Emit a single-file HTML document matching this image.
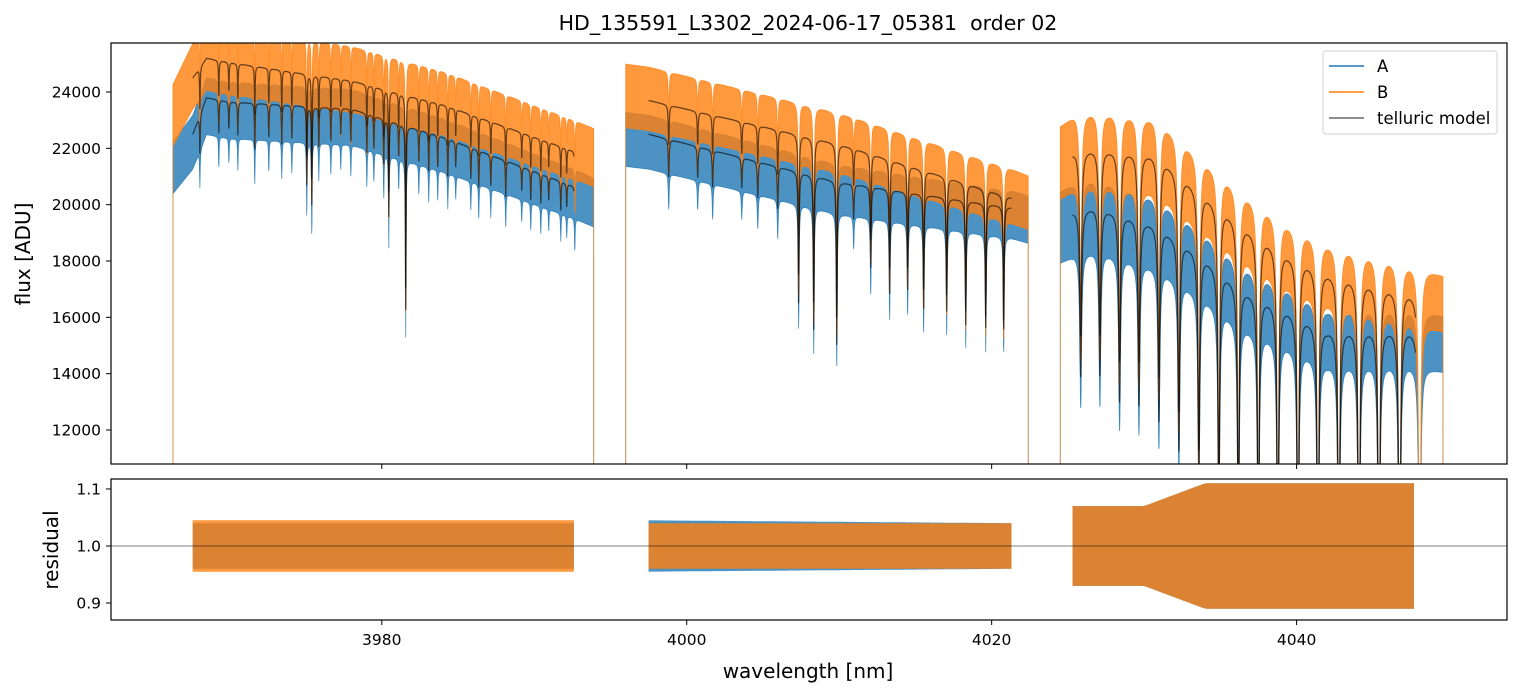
<!DOCTYPE html>
<html><head><meta charset="utf-8">
<style>
html,body{margin:0;padding:0;background:#fff;}
svg{display:block;font-family:"DejaVu Sans","Liberation Sans",sans-serif;}
</style></head>
<body>
<svg id="chart" width="1520" height="696" viewBox="0 0 1520 696" xmlns="http://www.w3.org/2000/svg">
<defs>
<clipPath id="clipTop"><rect x="111" y="43" width="1396" height="421"/></clipPath>
<clipPath id="clipBot"><rect x="111" y="479" width="1396" height="141"/></clipPath>
</defs>
<rect x="0" y="0" width="1520" height="696" fill="#fff"/>
<text x="808" y="30" text-anchor="middle" font-size="20.5" fill="#000">HD_135591_L3302_2024-06-17_05381&#160; order 02</text>
<g id="topPlot" clip-path="url(#clipTop)"></g>
<g id="botPlot" clip-path="url(#clipBot)"></g>
<rect x="111" y="43" width="1396" height="421" fill="none" stroke="#000" stroke-width="1.2"/>
<rect x="111" y="479" width="1396" height="141" fill="none" stroke="#000" stroke-width="1.2"/>
<g id="axes"></g>
<text transform="translate(30,254) rotate(-90)" text-anchor="middle" font-size="20">flux [ADU]</text>
<text transform="translate(58,550) rotate(-90)" text-anchor="middle" font-size="20">residual</text>
<text x="808" y="678" text-anchor="middle" font-size="20">wavelength [nm]</text>
<g>
<rect x="1323" y="51" width="174" height="83" rx="3" fill="#fff" fill-opacity="0.8" stroke="#d0d0d0" stroke-width="1"/>
<line x1="1329" y1="66" x2="1364" y2="66" stroke="#1f77b4" stroke-width="1.5"/>
<text x="1377" y="72" font-size="16.5">A</text>
<line x1="1329" y1="92" x2="1364" y2="92" stroke="#ff7f0e" stroke-width="1.5"/>
<text x="1377" y="98" font-size="16.5">B</text>
<line x1="1329" y1="118" x2="1364" y2="118" stroke="#000" stroke-opacity="0.6" stroke-width="1.5"/>
<text x="1377" y="124" font-size="16.5">telluric model</text>
</g>
</svg>
<script>
// ---- data ----
const xTicks = [3980, 4000, 4020, 4040];
const yTicksFlux = [12000, 14000, 16000, 18000, 20000, 22000, 24000];
const yTicksRes = [0.9, 1.0, 1.1];
const segDataStart = [3966.3, 3996.0, 4024.5];
const segDataEnd = [3993.9, 4022.4, 4049.6];
const segModelStart = [3967.6, 3997.5, 4025.3];
const segModelEnd = [3992.6, 4021.3, 4047.8];
const contWl = [3966.2, 3967.6, 3968.5, 3970, 3978, 3984, 3992.6, 3994, 3996, 3997.5, 4010, 4021.3, 4022.5, 4024.5, 4025.5, 4026.9, 4030.8, 4033.7, 4036.4, 4039.4, 4042, 4047.3, 4049.6];
const contA = [21500, 22500, 23800, 23650, 23400, 22400, 20650, 20300, 22600, 22500, 20800, 19900, 19700, 19500, 19800, 19950, 19300, 18250, 17050, 16300, 15600, 15600, 15300];
const contB = [23000, 24500, 25200, 25050, 24400, 23550, 21900, 21600, 23800, 23700, 22150, 20250, 20000, 21500, 21900, 22000, 21800, 20500, 19350, 18300, 17650, 16950, 16500];
const lineWl = [3968.07,3969.31,3969.97,3970.56,3971.67,3972.59,3973.44,3974.10,3975.08,3975.41,3975.87,3976.66,3977.31,3977.97,3979.02,3979.48,3980.13,3980.46,3981.11,3981.57,3982.43,3983.08,3983.67,3984.33,3984.85,3985.84,3986.36,3987.15,3988.13,3989.18,3989.77,3990.43,3990.95,3991.74,3992.13,3992.66,
 3998.82,4000.72,4001.70,4003.61,4004.66,4005.97,4007.34,4008.33,4009.84,4010.95,4012.07,4013.31,4014.49,4015.54,4017.05,4018.30,4019.61,4020.79,
 4025.84,4027.10,4028.39,4029.66,4030.97,4032.28,4033.59,4034.90,4036.18,4037.49,4038.77,4040.09,4041.40,4042.77,4044.09,4045.40,4046.75,4048.07];
const lineDepth = [.06,.05,.04,.05,.07,.05,.06,.05,.12,.15,.06,.05,.04,.05,.06,.05,.07,.15,.05,.29,.05,.06,.05,.06,.04,.05,.06,.05,.06,.04,.05,.05,.04,.05,.04,.06,
 .06,.05,.06,.05,.06,.07,.22,.26,.28,.06,.14,.18,.17,.2,.2,.22,.22,.22,
 .3,.3,.34,.34,.36,.4,.45,.5,.55,.6,.62,.65,.68,.7,.72,.74,.76,.78];
const lineWidthNm = [.025,.035,.07];
const bandUpA = [0.03, 0.03, 0.05];
const bandDnA = [0.055, 0.055, 0.08];
const bandUpB = [0.05, 0.05, 0.06];
const bandDnB = [0.045, 0.045, 0.06];
const resWl = [3967.6, 3992.6, 3997.5, 4021.3, 4025.3, 4030, 4034, 4048];
const resAmpA = [0.04, 0.04, 0.045, 0.04, 0.07, 0.07, 0.11, 0.11];
const resAmpB = [0.045, 0.045, 0.04, 0.04, 0.07, 0.07, 0.11, 0.11];

// ---- axes ----
const X0=111, X1=1507, WL0=3962.24, WL1=4053.8;
const xs = w => X0 + (w-WL0)/(WL1-WL0)*(X1-X0);
const YT0=43, YT1=464, F0=10793, F1=25740;
const yf = f => YT1 - (f-F0)/(F1-F0)*(YT1-YT0);
const YB0=479, YB1=620, R0=0.8702, R1=1.1175;
const yr = r => YB1 - (r-R0)/(R1-R0)*(YB1-YB0);
const NS='http://www.w3.org/2000/svg';
function mk(tag, attrs, parent){const e=document.createElementNS(NS,tag);for(const k in attrs)e.setAttribute(k,attrs[k]);parent.appendChild(e);return e;}
function interp(xa, ya, x){if(x<=xa[0])return ya[0];for(let i=1;i<xa.length;i++){if(x<=xa[i]){const t=(x-xa[i-1])/(xa[i]-xa[i-1]);return ya[i-1]+t*(ya[i]-ya[i-1]);}}return ya[ya.length-1];}
function segOf(w){return w<3995?0:(w<4023.5?1:2);}
function trans(w){let p=1;const s=segOf(w);const wd=lineWidthNm[s];for(let i=0;i<lineWl.length;i++){const d=(w-lineWl[i])/wd;if(Math.abs(d)<80)p*=1-lineDepth[i]/(1+d*d);}return p;}

const axesG=document.getElementById('axes');
xTicks.forEach(t=>{
  const x=xs(t);
  const a=mk('line',{x1:x,y1:464,x2:x,y2:469,stroke:'#000','stroke-width':1},axesG);
  
  
  const b=mk('line',{x1:x,y1:620,x2:x,y2:625,stroke:'#000','stroke-width':1},axesG);
  
  
  const tx=mk('text',{x:x,y:645,'text-anchor':'middle','font-size':15.5},axesG);tx.textContent=t;
  
  
});
yTicksFlux.forEach(t=>{
  const y=yf(t);
  const a=mk('line',{x1:106,y1:y,x2:111,y2:y,stroke:'#000','stroke-width':1},axesG);
  
  
  const tx=mk('text',{x:101,y:y+5.5,'text-anchor':'end','font-size':15.5},axesG);tx.textContent=t;
  
  
});
yTicksRes.forEach(t=>{
  const y=yr(t);
  const a=mk('line',{x1:106,y1:y,x2:111,y2:y,stroke:'#000','stroke-width':1},axesG);
  
  
  const tx=mk('text',{x:101,y:y+5.5,'text-anchor':'end','font-size':15.5},axesG);tx.textContent=t.toFixed(1);
  
  
});

// ---- flux plot ----
const topG=document.getElementById('topPlot');
const STEP=0.015;
function band(cont, up, dn, color, name){
  for(let s=0;s<3;s++){
    const pts=[];const lo=[];
    pts.push(xs(segDataStart[s])+','+(YT1+5));
    for(let w=segDataStart[s];w<=segDataEnd[s];w+=STEP){
      const m=interp(contWl,cont,w)*trans(w);
      pts.push(xs(w).toFixed(1)+','+yf(m*(1+up[s])).toFixed(1));
      lo.unshift(xs(w).toFixed(1)+','+yf(m*(1-dn[s])).toFixed(1));
    }
    pts.push(xs(segDataEnd[s])+','+(YT1+5));
    const p=mk('polygon',{points:pts.concat(lo).join(' '),fill:color,'fill-opacity':0.8,stroke:color,'stroke-opacity':0.8,'stroke-width':0.8},topG);
    
    
  }
}
band(contA,bandUpA,bandDnA,'#1f77b4','series-a-flux');
band(contB,bandUpB,bandDnB,'#ff7f0e','series-b-flux');
[contA,contB].forEach((cont,ci)=>{
  for(let s=0;s<3;s++){
    const pts=[];
    for(let w=segModelStart[s];w<=segModelEnd[s];w+=STEP/2){
      pts.push(xs(w).toFixed(1)+','+yf(interp(contWl,cont,w)*trans(w)).toFixed(1));
    }
    const p=mk('polyline',{points:pts.join(' '),fill:'none',stroke:'#000','stroke-opacity':0.6,'stroke-width':1.2},topG);
    
    
  }
});

// ---- residual plot ----
const botG=document.getElementById('botPlot');
function resBand(amp,color,name){
  for(let s=0;s<3;s++){
    const up=[],lo=[];
    for(let w=segModelStart[s];w<=segModelEnd[s];w+=0.2){
      const a=interp(resWl,amp,w);
      up.push(xs(w).toFixed(1)+','+yr(1+a).toFixed(1));
      lo.unshift(xs(w).toFixed(1)+','+yr(1-a).toFixed(1));
    }
    const p=mk('polygon',{points:up.concat(lo).join(' '),fill:color,'fill-opacity':0.8},botG);
    
    
  }
}
resBand(resAmpA,'#1f77b4','series-a-residual');
resBand(resAmpB,'#ff7f0e','series-b-residual');
const ref=mk('line',{x1:X0,y1:yr(1),x2:X1,y2:yr(1),stroke:'#000','stroke-opacity':0.5,'stroke-width':1},botG);


</script>
</body></html>
